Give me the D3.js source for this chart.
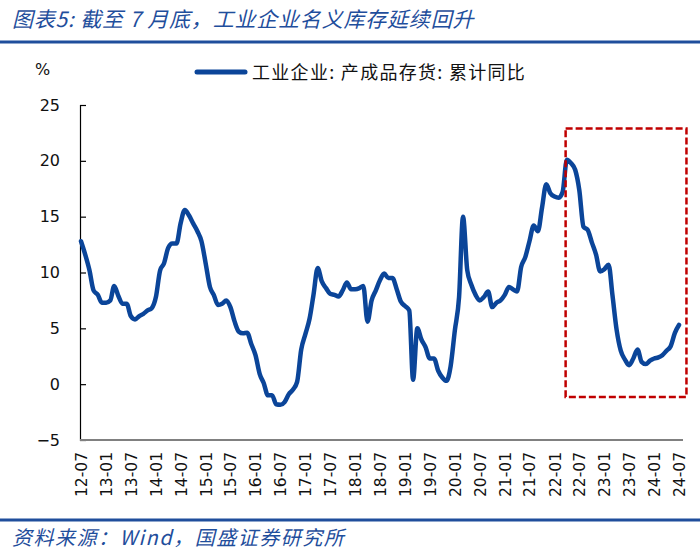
<!DOCTYPE html>
<html><head><meta charset="utf-8">
<script src="https://cdn.jsdelivr.net/npm/d3@7/dist/d3.min.js"></script>
<style>
html,body{margin:0;padding:0;background:#fff;}
svg{display:block;}
</style></head>
<body>
<svg id="chart" width="700" height="553"></svg>
<script>
// ---- data ----
const startMonth = "2012-07";
const endMonth = "2024-07";
const values = [
  12.8, 11.6, 10.2, 8.4, 8.0, 7.3,
  7.3, 7.5, 8.8, 7.9, 7.2, 7.2, 6.1, 5.8, 6.1, 6.3, 6.6, 6.8,
  7.8, 10.2, 10.8, 12.2, 12.6, 12.6, 14.4, 15.6, 15.1, 14.4, 13.7, 12.8,
  10.8, 8.7, 8.0, 7.1, 7.2, 7.5, 6.9, 5.6, 4.7, 4.55, 4.6, 3.6,
  2.6, 0.9, 0.1, -1.0, -1.0, -1.8, -1.85, -1.6, -0.9, -0.5, 0.2, 3.1,
  4.5, 5.9, 8.0, 10.4, 9.2, 8.6, 8.1, 8.0, 7.85, 8.4, 9.1, 8.5,
  8.5, 8.6, 8.8, 5.6, 7.5, 8.4, 9.3, 9.9, 9.5, 9.5, 8.5, 7.4,
  7.0, 6.6, 0.4, 5.0, 4.0, 3.3, 2.3, 2.3, 1.2, 0.6, 0.3, 1.6,
  4.8, 7.8, 15.0, 10.2, 8.9, 8.0, 7.5, 7.8, 8.3, 6.9, 7.3, 7.5,
  8.0, 8.7, 8.5, 8.3, 10.5, 11.4, 12.8, 14.2, 13.7, 15.8, 17.9, 17.1,
  16.8, 16.7, 17.2, 20.1, 19.8, 19.2, 17.4, 14.1, 13.8, 12.7, 11.6, 10.1,
  10.3, 10.7, 8.0, 4.85, 3.0, 2.2, 1.7, 2.3, 3.1, 2.0, 1.8, 2.1,
  2.3, 2.4, 2.6, 3.0, 3.4, 4.6, 5.3
];
const xTickLabels = ["12-07","13-01","13-07","14-01","14-07","15-01","15-07","16-01","16-07",
  "17-01","17-07","18-01","18-07","19-01","19-07","20-01","20-07","21-01","21-07",
  "22-01","22-07","23-01","23-07","24-01","24-07"];
const yTicks = [-5, 0, 5, 10, 15, 20, 25];
const seriesName = "工业企业: 产成品存货: 累计同比";
const titleText = "图表5:  截至 7 月底，工业企业名义库存延续回升";
const sourceText = "资料来源：Wind，国盛证券研究所";
const boxRange = { from: "2022-03", to: "2024-09", top: 22.9, bottom: -1.15 };

// ---- setup ----
const parse = d3.timeParse("%Y-%m");
const parseTick = d3.timeParse("%y-%m");
const months = d3.timeMonth.range(parse(startMonth), d3.timeMonth.offset(parse(endMonth), 1));
const data = months.map((d, i) => ({ date: d, v: values[i] }));

const svg = d3.select("#chart");
const blue = "#1f4e9c";
const lineBlue = "#0b4599";

const x = d3.scaleTime().domain([parse(startMonth), parse(endMonth)]).range([81, 679]);
const y = d3.scaleLinear().domain([-5, 25]).range([440, 105]);

// title
svg.append("text").attr("x", 12).attr("y", 27)
  .attr("font-family", "'Noto Sans CJK SC', sans-serif").attr("font-size", 21)
  .attr("letter-spacing", 0.8)
  .attr("font-style", "italic").attr("fill", blue).text(titleText);
svg.append("line").attr("x1", 0).attr("x2", 700).attr("y1", 42).attr("y2", 42)
  .attr("stroke", blue).attr("stroke-width", 3);

// legend
svg.append("line").attr("x1", 197).attr("x2", 245).attr("y1", 72).attr("y2", 72)
  .attr("stroke", lineBlue).attr("stroke-width", 5).attr("stroke-linecap", "round");
svg.append("text").attr("x", 252).attr("y", 79)
  .attr("font-family", "'Noto Sans CJK SC', sans-serif").attr("font-size", 18)
  .attr("letter-spacing", 1.3)
  .attr("fill", "#111").text(seriesName);

// % unit
svg.append("text").attr("x", 35).attr("y", 75)
  .attr("font-family", "'DejaVu Sans', sans-serif").attr("font-size", 16)
  .attr("fill", "#111").text("%");

// y axis
const yAxis = d3.axisLeft(y).tickValues(yTicks).tickSize(-6).tickPadding(20).tickFormat(d3.format("d"));
const gy = svg.append("g").attr("transform", "translate(80,0)").call(yAxis);
gy.select(".domain").attr("stroke", "#000").attr("stroke-width", 1.2);
gy.selectAll(".tick line").attr("stroke", "#000").attr("stroke-width", 1.2);
gy.selectAll(".tick text").attr("font-family", "'DejaVu Sans', sans-serif")
  .attr("font-size", 16).attr("fill", "#111");

// x axis
const tickDates = xTickLabels.map(s => parseTick(s));
const xAxis = d3.axisBottom(x).tickValues(tickDates).tickSize(0).tickPadding(10)
  .tickFormat(d3.timeFormat("%y-%m"));
const gx = svg.append("g").attr("transform", "translate(0,440)").call(xAxis);
gx.select(".domain").attr("d", "M80,0H683").attr("stroke", "#808080").attr("stroke-width", 2);
gx.selectAll(".tick text")
  .attr("font-family", "'DejaVu Sans', sans-serif").attr("font-size", 15.5).attr("fill", "#111")
  .attr("transform", "rotate(-90)").attr("text-anchor", "end")
  .attr("x", -12).attr("y", 0).attr("dy", "0.35em");

// line
const line = d3.line().x(d => x(d.date)).y(d => y(d.v)).curve(d3.curveMonotoneX);
svg.append("path").datum(data).attr("d", line).attr("fill", "none")
  .attr("stroke", lineBlue).attr("stroke-width", 4.5).attr("stroke-linejoin", "round").attr("stroke-linecap", "round");

// red dashed box
const bx0 = x(parse(boxRange.from)) + 3, bx1 = x(parse(boxRange.to)) - 1;
svg.append("rect").attr("x", bx0).attr("y", y(boxRange.top))
  .attr("width", bx1 - bx0).attr("height", y(boxRange.bottom) - y(boxRange.top))
  .attr("fill", "none").attr("stroke", "#c00000").attr("stroke-width", 2.5)
  .attr("stroke-dasharray", "7,3");

// footer
svg.append("line").attr("x1", 0).attr("x2", 700).attr("y1", 520).attr("y2", 520)
  .attr("stroke", blue).attr("stroke-width", 3);
svg.append("text").attr("x", 12).attr("y", 545)
  .attr("font-family", "'Noto Sans CJK SC', sans-serif").attr("font-size", 20)
  .attr("letter-spacing", 1.5)
  .attr("font-style", "italic").attr("fill", blue).text(sourceText);
</script>
</body></html>
